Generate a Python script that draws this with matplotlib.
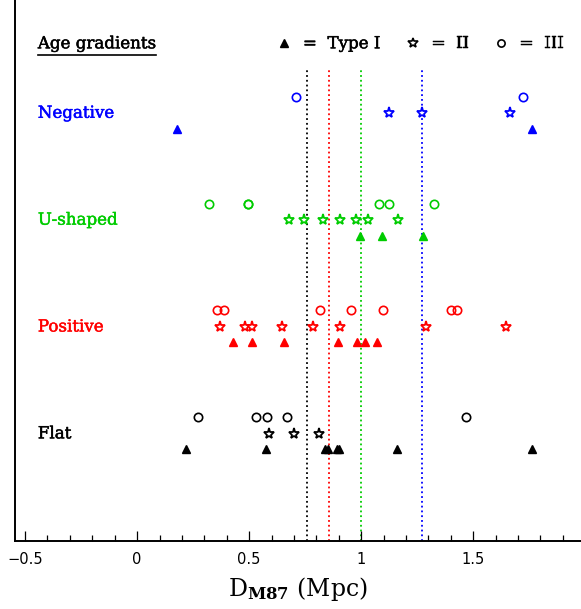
import matplotlib
matplotlib.use('Agg')
import matplotlib.pyplot as plt
import matplotlib.patheffects as pe
from matplotlib.ticker import MultipleLocator
from matplotlib.lines import Line2D

plt.rcParams['mathtext.fontset'] = 'dejavuserif'

# ---- data ----
categories = ['Flat', 'Positive', 'U-shaped', 'Negative']
cat_colors = ['black', '#ff0000', '#00cc00', '#0000ff']

type1 = {
    'Flat':     [0.218, 0.574, 0.838, 0.853, 0.891, 0.902, 1.158, 1.761],
    'Positive': [0.428, 0.514, 0.657, 0.896, 0.981, 1.017, 1.072],
    'U-shaped': [0.996, 1.091, 1.277],
    'Negative': [0.179, 1.761],
}
type2 = {
    'Flat':     [0.590, 0.700, 0.810],
    'Positive': [0.371, 0.483, 0.514, 0.645, 0.786, 0.907, 1.288, 1.646],
    'U-shaped': [0.678, 0.746, 0.828, 0.907, 0.975, 1.032, 1.163],
    'Negative': [1.124, 1.270, 1.664],
}
type3 = {
    'Flat':     [0.273, 0.530, 0.581, 0.670, 1.468],
    'Positive': [0.355, 0.388, 0.816, 0.953, 1.099, 1.399, 1.429],
    'U-shaped': [0.319, 0.497, 0.497, 1.078, 1.126, 1.324],
    'Negative': [0.709, 1.724],
}
median_dist = {'Flat': 0.757, 'Positive': 0.858, 'U-shaped': 1.0, 'Negative': 1.273}

xmajor = [-0.5, 0, 0.5, 1, 1.5]
xmajor_labels = ['\u22120.5', '0', '0.5', '1', '1.5']

# ---- figure ----
W, H = 581, 609
fig = plt.figure(figsize=(W / 100, H / 100), dpi=100)
ax = fig.add_axes([15 / W, 68.3 / H, 1 - 15 / W, 540.7 / H])
ax.set_xlim(-0.545, 1.981)
ax.set_ylim(-1.0, 4.06)

for s in ['top', 'right']:
    ax.spines[s].set_visible(False)
for s in ['left', 'bottom']:
    ax.spines[s].set_linewidth(1.4)

ax.set_yticks([])
ax.set_xticks(xmajor)
ax.set_xticklabels(xmajor_labels, fontfamily='DejaVu Sans', fontsize=10.5)
ax.xaxis.set_minor_locator(MultipleLocator(0.1))
ax.tick_params(axis='x', which='major', direction='in', length=7.5, width=0.9, pad=8)
ax.tick_params(axis='x', which='minor', direction='in', length=4, width=0.9)

serif = 'DejaVu Serif'
dI, dIII = -0.145, 0.155
ms = 6.0


def thick(col):
    return [pe.withStroke(linewidth=0.35, foreground=col)]


for i, (cat, col) in enumerate(zip(categories, cat_colors)):
    ax.plot([median_dist[cat]] * 2, [-1.0, 3.405], ls=':', color=col, lw=1.3, zorder=1)
    y1 = type1[cat]
    ax.plot(y1, [i + dI] * len(y1), ls='none', marker='^', ms=ms, color=col,
            mec=col, zorder=3)
    y2 = type2[cat]
    ax.plot(y2, [i] * len(y2), ls='none', marker='*', ms=ms + 2.0, mfc='white',
            mec=col, mew=1.3, zorder=3)
    y3 = type3[cat]
    ax.plot(y3, [i + dIII] * len(y3), ls='none', marker='o', ms=ms, mfc='none',
            mec=col, mew=1.2, zorder=3)
    ax.text(-0.443, i, cat, color=col, fontfamily=serif, fontsize=12,
            ha='left', va='center', path_effects=thick(col))

# legend header
ly = 3.65
hdr = ax.text(-0.443, ly, 'Age gradients', fontfamily=serif, fontsize=12,
              ha='left', va='center', color='black', path_effects=thick('black'))
ax.plot([0.657], [ly + 0.005], ls='none', marker='^', ms=5.2, color='black')
ax.text(0.740, ly, '=  Type I', fontfamily=serif, fontsize=12, ha='left', va='center',
        path_effects=thick('black'))
ax.plot([1.230], [ly + 0.005], ls='none', marker='*', ms=7.2, mfc='white', mec='black', mew=1.2)
ax.text(1.313, ly, '=  II', fontfamily=serif, fontsize=12, ha='left', va='center',
        path_effects=thick('black'))
ax.plot([1.624], [ly + 0.005], ls='none', marker='o', ms=5.2, mfc='none', mec='black', mew=1.2)
ax.text(1.707, ly, '=  III', fontfamily=serif, fontsize=12, ha='left', va='center',
        path_effects=thick('black'))

ax.set_xlabel(r'D$_{\mathbf{M87}}$ (Mpc)', fontfamily=serif, fontsize=17, labelpad=6)

# underline the header using its rendered extent
fig.canvas.draw()
bb = hdr.get_window_extent()
uy = bb.y0 - 3
fig.add_artist(Line2D([bb.x0 / W, bb.x1 / W], [uy / H, uy / H], color='black', lw=1.2))

fig.savefig('out.png', dpi=100)
